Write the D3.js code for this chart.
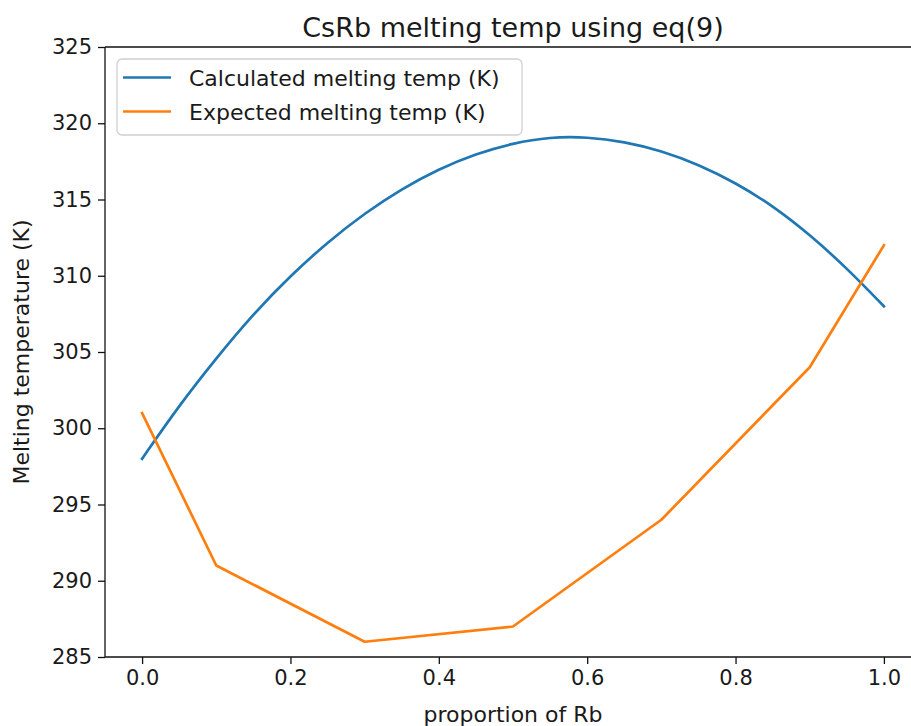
<!DOCTYPE html>
<html>
<head>
<meta charset="utf-8">
<script src="https://cdn.jsdelivr.net/npm/d3@7"></script>
<style>
  html, body { margin: 0; padding: 0; background: #fff; }
  svg { display: block; font-family: "DejaVu Sans", sans-serif; }
  text { fill: #1a1a1a; }
</style>
</head>
<body>
<svg id="chart" width="911" height="726"></svg>
<script>
'use strict';

/* CsRb melting temperature: calculated curve vs expected points */

// proportion of Rb, calculated curve
var calcX = [0, 0.05, 0.1, 0.15, 0.2, 0.25, 0.3, 0.35, 0.4, 0.45, 0.5,
             0.55, 0.6, 0.65, 0.7, 0.75, 0.8, 0.85, 0.9, 0.95, 1.0];
var calcY = [298.0, 301.5, 304.6, 307.5, 310.0, 312.2, 314.1, 315.7, 317.0, 318.0, 318.7,
             319.1, 319.1, 318.8, 318.2, 317.3, 316.1, 314.6, 312.7, 310.5, 308.0];

// expected melting temps
var expX = [0, 0.1, 0.3, 0.5, 0.7, 0.9, 1.0];
var expY = [301, 291, 286, 287, 294, 304, 312];

var xTicks = [0, 0.2, 0.4, 0.6, 0.8, 1.0];
var yTicks = [285, 290, 295, 300, 305, 310, 315, 320, 325];

var seriesNames = ['Calculated melting temp (K)', 'Expected melting temp (K)'];
var seriesColors = ['#1f77b4', '#ff7f0e'];

var svg = d3.select('#chart');

// plot area (right spine falls just outside the picture, like the reference)
var plotLeft = 105, plotRight = 921, plotTop = 47, plotBottom = 657;

var x = d3.scaleLinear().domain([-0.05, 1.05]).range([plotLeft, plotRight]);
var y = d3.scaleLinear().domain([285, 325]).range([plotBottom, plotTop]);

//lines
var line = d3.line()
    .x(function (d) { return x(d[0]); })
    .y(function (d) { return y(d[1]); });

var plot = svg.append('g');

plot.append('path')
    .datum(d3.zip(calcX, calcY))
    .attr('d', line.curve(d3.curveBasis))
    .attr('fill', 'none')
    .attr('stroke', seriesColors[0])
    .attr('stroke-width', 2.7)
    .attr('stroke-linecap', 'square')
    .attr('stroke-linejoin', 'round');

plot.append('path')
    .datum(d3.zip(expX, expY))
    .attr('d', line.curve(d3.curveLinear))
    .attr('fill', 'none')
    .attr('stroke', seriesColors[1])
    .attr('stroke-width', 2.7)
    .attr('stroke-linecap', 'square')
    .attr('stroke-linejoin', 'round');

//axes
var xAxis = svg.append('g')
    .attr('transform', 'translate(0,' + plotBottom + ')')
    .call(d3.axisBottom(x).tickValues(xTicks).tickFormat(d3.format('.1f'))
        .tickSizeInner(7).tickSizeOuter(0).tickPadding(6));

var yAxis = svg.append('g')
    .attr('transform', 'translate(' + plotLeft + ',0)')
    .call(d3.axisLeft(y).tickValues(yTicks).tickFormat(d3.format('d'))
        .tickSizeInner(7).tickSizeOuter(0).tickPadding(6));

[xAxis, yAxis].forEach(function (ax) {
    ax.select('.domain').remove();
    ax.selectAll('.tick line').attr('stroke', '#111').attr('stroke-width', 1.3);
    ax.selectAll('.tick text')
        .attr('font-size', 21)
        .attr('font-family', '"DejaVu Sans", sans-serif')
        .attr('fill', '#1a1a1a');
});

//spines
var spine = svg.append('g').attr('stroke', '#111').attr('stroke-width', 1.3);
spine.append('line').attr('x1', plotLeft).attr('x2', plotLeft).attr('y1', plotTop).attr('y2', plotBottom);
spine.append('line').attr('x1', plotLeft).attr('x2', plotRight).attr('y1', plotBottom).attr('y2', plotBottom);
spine.append('line').attr('x1', plotLeft).attr('x2', plotRight).attr('y1', plotTop).attr('y2', plotTop);
spine.append('line').attr('x1', plotRight).attr('x2', plotRight).attr('y1', plotTop).attr('y2', plotBottom);

//title and labels
svg.append('text')
    .attr('x', (plotLeft + plotRight) / 2)
    .attr('y', 37)
    .attr('text-anchor', 'middle')
    .attr('font-size', 27)
    .text('CsRb melting temp using eq(9)');

svg.append('text')
    .attr('x', (plotLeft + plotRight) / 2)
    .attr('y', 722)
    .attr('text-anchor', 'middle')
    .attr('font-size', 22)
    .text('proportion of Rb');

svg.append('text')
    .attr('transform', 'translate(29,' + ((plotTop + plotBottom) / 2) + ') rotate(-90)')
    .attr('text-anchor', 'middle')
    .attr('font-size', 22)
    .text('Melting temperature (K)');

//legend
var legend = svg.append('g');
legend.append('rect')
    .attr('x', 117).attr('y', 59)
    .attr('width', 405).attr('height', 76)
    .attr('rx', 5)
    .attr('fill', '#fff').attr('fill-opacity', 0.8)
    .attr('stroke', '#d0d0d0').attr('stroke-width', 1.3);

seriesNames.forEach(function (name, i) {
    var ly = 77.5 + i * 34;
    legend.append('line')
        .attr('x1', 123).attr('x2', 171)
        .attr('y1', ly).attr('y2', ly)
        .attr('stroke', seriesColors[i])
        .attr('stroke-width', 2.7);
    legend.append('text')
        .attr('x', 189).attr('y', ly + 8)
        .attr('font-size', 22)
        .text(name);
});
</script>
</body>
</html>
